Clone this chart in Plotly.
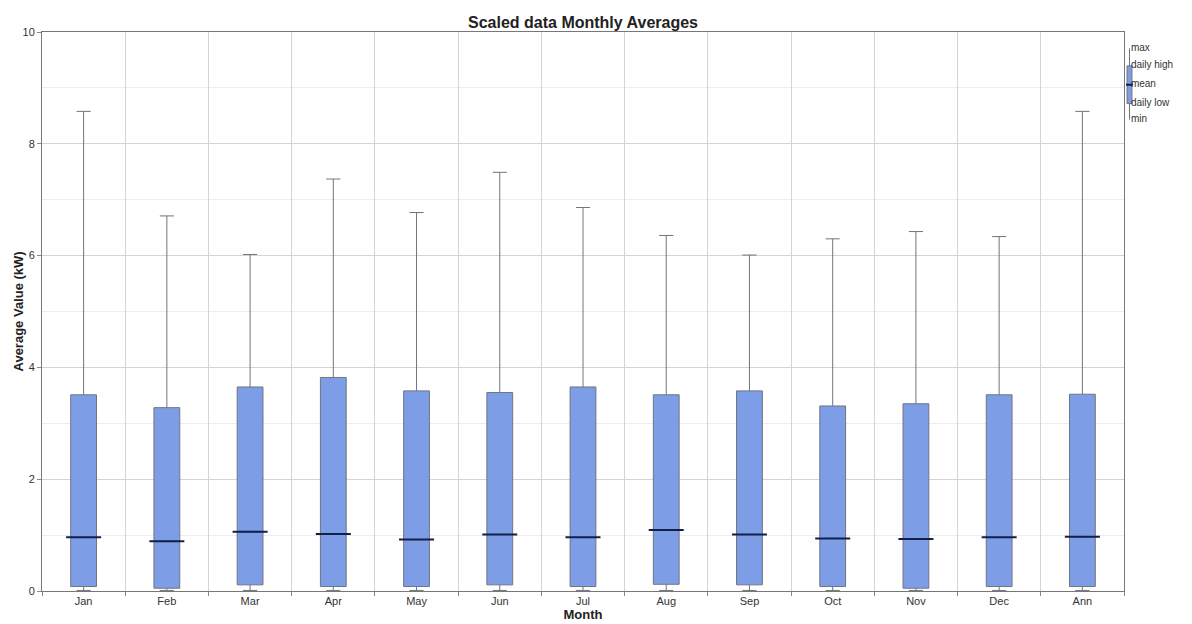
import plotly.graph_objects as go

# Monthly summary statistics (kW)
months = ["Jan", "Feb", "Mar", "Apr", "May", "Jun", "Jul", "Aug", "Sep", "Oct", "Nov", "Dec", "Ann"]
val_max = [8.58, 6.71, 6.02, 7.37, 6.77, 7.49, 6.86, 6.36, 6.01, 6.30, 6.43, 6.34, 8.58]
daily_high = [3.51, 3.28, 3.65, 3.82, 3.58, 3.55, 3.65, 3.51, 3.58, 3.31, 3.35, 3.51, 3.52]
mean = [0.96, 0.89, 1.06, 1.02, 0.92, 1.01, 0.96, 1.09, 1.01, 0.94, 0.93, 0.96, 0.97]
daily_low = [0.08, 0.05, 0.11, 0.08, 0.08, 0.11, 0.08, 0.12, 0.11, 0.08, 0.05, 0.08, 0.08]
val_min = [0.01, 0.01, 0.01, 0.01, 0.01, 0.01, 0.01, 0.01, 0.01, 0.01, 0.01, 0.01, 0.01]

# Key glyph in the top-right corner
key_labels = ["max", "daily high", "mean", "daily low", "min"]
key_values = [5.0, 3.8, 2.5, 1.2, 0.1]

FONT = "Liberation Sans, Arial, sans-serif"
BOX_FILL = "rgb(125,158,230)"
BOX_LINE = "rgb(112,116,128)"
MEAN_COLOR = "rgb(20,30,75)"

# Pixel layout of the plotting area
W, H = 1192, 624
L, T, B = 42, 32, 33
PLOT_RIGHT = 1124
paper_w = W - L
paper_h = H - T - B


def px_x(p):
    return (p - L) / paper_w


def px_y(p):
    return (H - B - p) / paper_h


fig = go.Figure()

fig.add_trace(go.Box(
    x=months,
    q1=daily_low,
    median=mean,
    q3=daily_high,
    lowerfence=val_min,
    upperfence=val_max,
    fillcolor=BOX_FILL,
    line=dict(color=BOX_LINE, width=1),
    width=0.31,
    whiskerwidth=0.55,
    boxpoints=False,
    hoverinfo="skip",
    showlegend=False,
))

# Mean markers drawn over each box
fig.add_trace(go.Scatter(
    x=months,
    y=mean,
    mode="markers",
    marker=dict(symbol="line-ew", size=25, line=dict(color=MEAN_COLOR, width=2)),
    hoverinfo="skip",
    showlegend=False,
))

# Key box
fig.add_trace(go.Box(
    x=[0],
    q1=[key_values[3]],
    median=[key_values[2]],
    q3=[key_values[1]],
    lowerfence=[key_values[4]],
    upperfence=[key_values[0]],
    fillcolor=BOX_FILL,
    line=dict(color=BOX_LINE, width=1),
    width=0.7,
    whiskerwidth=0.0,
    boxpoints=False,
    xaxis="x2",
    yaxis="y2",
    hoverinfo="skip",
    showlegend=False,
))
fig.add_trace(go.Scatter(
    x=[0],
    y=[key_values[2]],
    mode="markers",
    marker=dict(symbol="line-ew", size=5, line=dict(color=MEAN_COLOR, width=2)),
    xaxis="x2",
    yaxis="y2",
    hoverinfo="skip",
    showlegend=False,
))
fig.add_trace(go.Scatter(
    x=[0.2] * len(key_labels),
    y=key_values,
    mode="text",
    text=key_labels,
    textposition="middle right",
    textfont=dict(family=FONT, size=10, color="#333333"),
    xaxis="x2",
    yaxis="y2",
    hoverinfo="skip",
    showlegend=False,
    cliponaxis=False,
))

fig.update_layout(
    width=W,
    height=H,
    margin=dict(l=L, r=0, t=T, b=B),
    paper_bgcolor="white",
    plot_bgcolor="white",
    font=dict(family=FONT, size=11, color="#333333"),
    title=dict(
        text="<b>Scaled data Monthly Averages</b>",
        font=dict(family=FONT, size=16, color="#222222"),
        x=(L + PLOT_RIGHT) / 2 / W,
        xanchor="center",
        xref="container",
        y=1 - 22 / H,
        yref="container",
        yanchor="middle",
    ),
    xaxis=dict(
        domain=[0, px_x(PLOT_RIGHT)],
        type="category",
        tickson="boundaries",
        ticks="outside",
        ticklen=4,
        tickcolor="#888888",
        showgrid=True,
        gridcolor="#d4d4d4",
        gridwidth=1,
        showline=True,
        linecolor="#777777",
        linewidth=1,
        mirror=True,
        range=[-0.5, 12.5],
        tickfont=dict(family=FONT, size=11, color="#333333"),
        title=dict(text="<b>Month</b>", font=dict(family=FONT, size=13, color="#222222"), standoff=2),
        automargin=False,
        zeroline=False,
    ),
    yaxis=dict(
        range=[0, 10],
        tickvals=[0, 2, 4, 6, 8, 10],
        ticks="outside",
        ticklen=4,
        tickcolor="#888888",
        showgrid=True,
        gridcolor="#d4d4d4",
        gridwidth=1,
        minor=dict(dtick=1, showgrid=True, gridcolor="#ececec", gridwidth=1),
        showline=True,
        linecolor="#777777",
        linewidth=1,
        mirror=True,
        zeroline=False,
        tickfont=dict(family=FONT, size=11, color="#333333"),
        automargin=False,
    ),
    xaxis2=dict(
        domain=[px_x(1126), px_x(1133)],
        anchor="y2",
        range=[-0.5, 0.5],
        visible=False,
    ),
    yaxis2=dict(
        domain=[px_y(121), px_y(47)],
        anchor="x2",
        range=[0, 5.1],
        visible=False,
    ),
    annotations=[
        dict(
            text="<b>Average Value (kW)</b>",
            textangle=-90,
            xref="paper",
            yref="paper",
            x=px_x(18),
            y=0.5,
            xanchor="center",
            yanchor="middle",
            showarrow=False,
            font=dict(family=FONT, size=13, color="#222222"),
        )
    ],
)

fig.write_html("out.html")
